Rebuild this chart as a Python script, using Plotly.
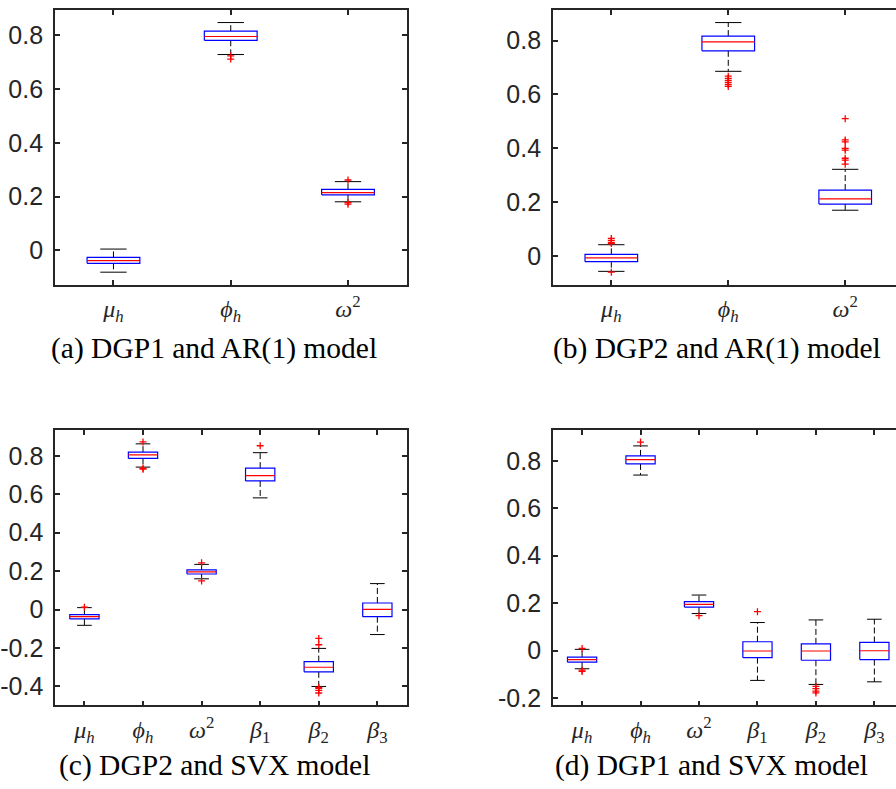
import plotly.graph_objects as go

# ---------------- data ----------------
labels3 = ["<i>μ</i><sub><i>h</i></sub>", "<i>ϕ</i><sub><i>h</i></sub>", "<i>ω</i><sup>2</sup>"]
labels6 = labels3 + ["<i>β</i><sub>1</sub>", "<i>β</i><sub>2</sub>", "<i>β</i><sub>3</sub>"]

# (a) DGP1 and AR(1) model
a_lo = [-0.081, 0.729, 0.181]
a_q1 = [-0.048, 0.782, 0.207]
a_med = [-0.038, 0.796, 0.215]
a_q3 = [-0.026, 0.816, 0.227]
a_hi = [0.005, 0.848, 0.256]
a_out = [[], [0.724, 0.712], [0.262, 0.178, 0.172]]

# (b) DGP2 and AR(1) model
b_lo = [-0.057, 0.686, 0.170]
b_q1 = [-0.021, 0.762, 0.193]
b_med = [-0.007, 0.795, 0.212]
b_q3 = [0.006, 0.817, 0.245]
b_hi = [0.042, 0.867, 0.322]
b_out = [[0.065, 0.057, 0.050, 0.046, -0.060],
         [0.668, 0.660, 0.652, 0.645, 0.637, 0.630],
         [0.510, 0.431, 0.424, 0.400, 0.393, 0.363, 0.356, 0.341]]

# (c) DGP2 and SVX model
c_lo = [-0.082, 0.741, 0.160, 0.581, -0.400, -0.130]
c_q1 = [-0.049, 0.786, 0.185, 0.669, -0.324, -0.037]
c_med = [-0.037, 0.805, 0.196, 0.697, -0.300, 0.001]
c_q3 = [-0.026, 0.819, 0.206, 0.736, -0.271, 0.034]
c_hi = [0.010, 0.862, 0.235, 0.816, -0.202, 0.135]
c_out = [[0.012], [0.872, 0.735, 0.730], [0.243, 0.149], [0.852],
         [-0.150, -0.183, -0.405, -0.410, -0.420, -0.434], []]

# (d) DGP1 and SVX model
d_lo = [-0.077, 0.740, 0.156, -0.126, -0.143, -0.132]
d_q1 = [-0.049, 0.787, 0.183, -0.030, -0.041, -0.038]
d_med = [-0.038, 0.805, 0.195, -0.002, -0.002, -0.001]
d_q3 = [-0.028, 0.821, 0.206, 0.037, 0.028, 0.034]
d_hi = [0.005, 0.863, 0.234, 0.118, 0.129, 0.132]
d_out = [[0.009, -0.083, -0.088], [0.879], [0.147], [0.164],
         [-0.151, -0.161, -0.171, -0.179], []]

captions = ["(a) DGP1 and AR(1) model", "(b) DGP2 and AR(1) model",
            "(c) DGP2 and SVX model", "(d) DGP1 and SVX model"]

yt_a = [0, 0.2, 0.4, 0.6, 0.8]
yt_a_txt = ["0", "0.2", "0.4", "0.6", "0.8"]
yt_c = [-0.4, -0.2, 0, 0.2, 0.4, 0.6, 0.8]
yt_c_txt = ["-0.4", "-0.2", "0", "0.2", "0.4", "0.6", "0.8"]
yt_d = [-0.2, 0, 0.2, 0.4, 0.6, 0.8]
yt_d_txt = ["-0.2", "0", "0.2", "0.4", "0.6", "0.8"]

# ---------------- figure ----------------
W, H = 896, 789
fig = go.Figure()

AX = "#262626"
TICKFONT = dict(family="Liberation Sans", size=25, color=AX)
XFONT = dict(family="Liberation Serif", size=24, color=AX)


def add_panel(k, lo, q1, med, q3, hi, outs, width):
    xa = "x" if k == 1 else f"x{k}"
    ya = "y" if k == 1 else f"y{k}"
    n = len(med)
    wx, wy, cx, cy, bx, by, mx, my, ox, oy = [], [], [], [], [], [], [], [], [], []
    for i in range(n):
        p = i + 1
        h = width / 2
        c = width / 4
        wx += [p, p, None, p, p, None]
        wy += [q3[i], hi[i], None, q1[i], lo[i], None]
        cx += [p - c, p + c, None, p - c, p + c, None]
        cy += [hi[i], hi[i], None, lo[i], lo[i], None]
        bx += [p - h, p + h, p + h, p - h, p - h, None]
        by += [q1[i], q1[i], q3[i], q3[i], q1[i], None]
        mx += [p - h, p + h, None]
        my += [med[i], med[i], None]
        for v in outs[i]:
            ox.append(p)
            oy.append(v)
    common = dict(xaxis=xa, yaxis=ya, showlegend=False, hoverinfo="skip", mode="lines")
    fig.add_trace(go.Scatter(x=wx, y=wy, line=dict(color="black", width=1, dash="6px,3px"), **common))
    fig.add_trace(go.Scatter(x=cx, y=cy, line=dict(color="black", width=1), **common))
    fig.add_trace(go.Scatter(x=bx, y=by, line=dict(color="#0000FF", width=1.2), **common))
    fig.add_trace(go.Scatter(x=mx, y=my, line=dict(color="#FF0000", width=1.2), **common))
    fig.add_trace(go.Scatter(x=ox, y=oy, mode="markers", xaxis=xa, yaxis=ya, showlegend=False,
                             hoverinfo="skip",
                             marker=dict(symbol="cross-thin", size=5, color="#FF0000",
                                         line=dict(color="#FF0000", width=1.3))))


add_panel(1, a_lo, a_q1, a_med, a_q3, a_hi, a_out, 0.45)
add_panel(2, b_lo, b_q1, b_med, b_q3, b_hi, b_out, 0.45)
add_panel(3, c_lo, c_q1, c_med, c_q3, c_hi, c_out, 0.5)
add_panel(4, d_lo, d_q1, d_med, d_q3, d_hi, d_out, 0.5)


def px_x(a, b):
    return [a / W, min(b / W, 1.0)]


def px_y(top, bottom):
    return [1 - bottom / H, 1 - top / H]


def xaxis(domain, rng, labels, anchor):
    return dict(domain=domain, range=rng, anchor=anchor,
                tickvals=list(range(1, len(labels) + 1)), ticktext=labels,
                ticks="inside", ticklen=5, tickwidth=1.5, tickcolor=AX,
                showline=True, linecolor=AX, linewidth=1.5, mirror="ticks",
                showgrid=False, zeroline=False, tickfont=XFONT, ticklabelstandoff=2)


def yaxis(domain, rng, tv, tt, anchor, mirror):
    return dict(domain=domain, range=rng, anchor=anchor,
                tickvals=tv, ticktext=tt,
                ticks="inside", ticklen=5, tickwidth=1.5, tickcolor=AX,
                showline=True, linecolor=AX, linewidth=1.5, mirror=mirror,
                showgrid=False, zeroline=False, tickfont=TICKFONT, ticklabelstandoff=5)


top_y = px_y(10, 287)
bot_y = px_y(433.3, 710.7)

fig.update_layout(
    width=W, height=H,
    margin=dict(l=0, r=0, t=0, b=0),
    paper_bgcolor="white", plot_bgcolor="white",
    xaxis=xaxis(px_x(52, 405), [0.5, 3.5], labels3, "y"),
    yaxis=yaxis(top_y, [-0.128, 0.895], yt_a, yt_a_txt, "x", "ticks"),
    xaxis2=xaxis(px_x(551.7, 896), [0.5, 3.5 - 7.7 / 117.3], labels3, "y2"),
    yaxis2=yaxis(top_y, [-0.107, 0.914], yt_a, yt_a_txt, "x2", False),
    xaxis3=xaxis(px_x(52.3, 405), [0.5, 6.5], labels6, "y3"),
    yaxis3=yaxis(bot_y, [-0.498, 0.934], yt_c, yt_c_txt, "x3", "ticks"),
    xaxis4=xaxis(px_x(551.7, 896), [0.5, 6.5 - 7.6 / 58.5], labels6, "y4"),
    yaxis4=yaxis(bot_y, [-0.231, 0.930], yt_d, yt_d_txt, "x4", False),
)

cap_pos = [(212, 351), (716, 351), (212, 771), (711, 771)]
for txt, (cx_, cy_) in zip(captions, cap_pos):
    fig.add_annotation(text=txt, x=cx_ / W, y=1 - cy_ / H, xref="paper", yref="paper",
                       xanchor="center", yanchor="middle", showarrow=False,
                       font=dict(family="Liberation Serif", size=29.5, color="black"))

fig.write_html("out.html")
